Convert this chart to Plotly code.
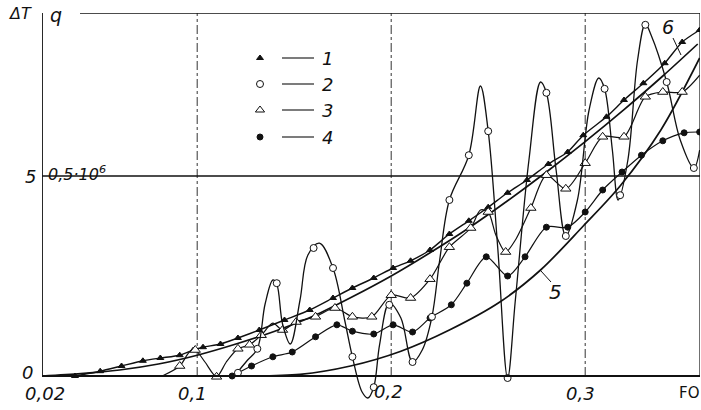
import plotly.graph_objects as go

# ---------------- data (Fo, ΔT / q) ----------------
fo_1 = [0.037, 0.050, 0.061, 0.072, 0.081, 0.091, 0.098, 0.103, 0.112, 0.121, 0.132, 0.145,
        0.158, 0.170, 0.180, 0.191, 0.201, 0.210, 0.220, 0.230, 0.240, 0.250, 0.260, 0.270,
        0.281, 0.291, 0.299, 0.311, 0.320, 0.330, 0.341, 0.350, 0.359]
dT_1 = [0.00, 0.12, 0.25, 0.38, 0.45, 0.52, 0.65, 0.72, 0.80, 0.95, 1.15, 1.40,
        1.65, 1.95, 2.20, 2.45, 2.70, 2.88, 3.15, 3.55, 3.88, 4.22, 4.58, 4.90,
        5.30, 5.60, 6.02, 6.48, 6.90, 7.32, 7.82, 8.35, 8.65]

fo_2_line = [0.120, 0.126, 0.131, 0.135, 0.139, 0.141, 0.144, 0.148, 0.153, 0.157, 0.163, 0.170,
             0.176, 0.180, 0.185, 0.188, 0.191, 0.194, 0.199, 0.205, 0.211, 0.216, 0.221, 0.225,
             0.230, 0.240, 0.246, 0.250, 0.255, 0.260, 0.264, 0.271, 0.277, 0.280, 0.285, 0.290,
             0.296, 0.302, 0.307, 0.310, 0.314, 0.317, 0.322, 0.327, 0.331, 0.334, 0.342, 0.349,
             0.356, 0.359]
dT_2_line = [0.05, 0.40, 0.68, 1.80, 2.40, 2.30, 1.30, 0.80, 1.90, 3.02, 3.32, 2.70,
             1.40, 0.48, -0.40, -0.55, -0.28, 0.78, 1.82, 1.45, 0.35, 0.65, 1.48, 2.90,
             4.40, 5.52, 7.25, 6.12, 3.15, -0.05, 1.90, 5.40, 7.35, 7.08, 5.15, 3.50,
             4.40, 6.65, 7.45, 7.18, 5.65, 4.40, 5.40, 7.90, 8.80, 8.52, 7.35, 5.90,
             5.20, 5.65]
fo_2_pts = [0.121, 0.131, 0.141, 0.160, 0.170, 0.180, 0.191, 0.199, 0.211, 0.221, 0.230, 0.240,
            0.250, 0.260, 0.280, 0.290, 0.310, 0.318, 0.331, 0.342, 0.356]
dT_2_pts = [0.08, 0.68, 2.32, 3.20, 2.70, 0.48, -0.28, 1.78, 0.35, 1.48, 4.40, 5.52,
            6.12, -0.05, 7.08, 3.50, 7.18, 4.52, 8.78, 7.35, 5.20]

fo_3_line = [0.082, 0.091, 0.096, 0.099, 0.104, 0.110, 0.115, 0.121, 0.127, 0.133, 0.139, 0.144,
             0.151, 0.161, 0.171, 0.180, 0.190, 0.200, 0.210, 0.220, 0.230, 0.241, 0.246, 0.250,
             0.254, 0.259, 0.264, 0.272, 0.280, 0.290, 0.300, 0.309, 0.320, 0.331, 0.340, 0.350,
             0.359]
dT_3_line = [0.00, 0.25, 0.60, 0.65, 0.35, -0.02, 0.35, 0.68, 0.78, 1.02, 1.32, 1.15,
             1.35, 1.48, 1.70, 1.48, 1.48, 2.02, 1.95, 2.42, 3.22, 3.70, 4.15, 4.10,
             3.52, 3.10, 3.40, 4.20, 5.02, 4.68, 5.32, 5.98, 5.98, 6.98, 7.10, 7.10,
             7.52]
fo_3_pts = [0.091, 0.099, 0.110, 0.121, 0.127, 0.133, 0.144, 0.151, 0.161, 0.171, 0.180, 0.190,
            0.200, 0.210, 0.220, 0.230, 0.241, 0.250, 0.259, 0.272, 0.280, 0.290, 0.300, 0.309,
            0.320, 0.331, 0.340, 0.350]
dT_3_pts = [0.25, 0.65, -0.02, 0.68, 0.78, 1.02, 1.15, 1.35, 1.48, 1.70, 1.48, 1.48,
            2.02, 1.95, 2.42, 3.22, 3.70, 4.10, 3.10, 4.20, 5.02, 4.68, 5.32, 5.98,
            5.98, 6.98, 7.10, 7.10]

fo_4 = [0.118, 0.128, 0.139, 0.149, 0.161, 0.172, 0.180, 0.191, 0.201, 0.211, 0.220, 0.231,
        0.239, 0.249, 0.260, 0.269, 0.280, 0.291, 0.300, 0.309, 0.319, 0.329, 0.340, 0.351,
        0.359]
dT_4 = [0.00, 0.25, 0.48, 0.60, 0.98, 1.28, 1.12, 1.05, 1.28, 1.10, 1.45, 1.78,
        2.32, 2.98, 2.50, 2.98, 3.72, 3.72, 4.10, 4.65, 5.10, 5.52, 5.88, 6.08,
        6.10]

fo_5 = [0.130, 0.153, 0.179, 0.205, 0.230, 0.256, 0.277, 0.299, 0.318, 0.339, 0.359]
dT_5 = [0.00, 0.04, 0.25, 0.62, 1.15, 1.85, 2.65, 3.75, 4.75, 6.15, 7.95]

fo_6 = [0.020, 0.040, 0.060, 0.080, 0.100, 0.120, 0.140, 0.160, 0.180, 0.200, 0.220, 0.240,
        0.260, 0.280, 0.300, 0.320, 0.340, 0.358]
dT_6 = [0.00, 0.06, 0.15, 0.30, 0.52, 0.80, 1.12, 1.50, 1.98, 2.50, 3.08, 3.70,
        4.38, 5.10, 5.86, 6.66, 7.50, 8.30]

x_ticks = [0.1, 0.2, 0.3]
x_tick_text = ["0,1", "0,2", "0,3"]
legend_labels = ["1", "2", "3", "4"]

# ---------------- layout constants ----------------
W, H = 701, 410
BASE = 376                 # pixel row of the zero line
ML, MR, MT, MB = 42, 1, 13, 10
PW, PH = W - ML - MR, H - MT - MB
X0 = 0.02
PX_PER_X = 1940.0
PX_PER_Y = 40.0
X1 = X0 + PW / PX_PER_X
YMIN = -(H - MB - BASE) / PX_PER_Y
Y1 = (BASE - MT) / PX_PER_Y

def dx(px):  # pixel -> data x (decoration placement)
    return X0 + (px - ML) / PX_PER_X

def dy(py):
    return (BASE - py) / PX_PER_Y

def pxp(px):  # pixel -> paper x
    return (px - ML) / PW

def pyp(py):
    return (H - MB - py) / PH

BLACK = "#111111"
FONT = "DejaVu Sans"

fig = go.Figure()

def line(x, y, w=1.3, smooth=0.9):
    fig.add_trace(go.Scatter(x=x, y=y, mode="lines",
                             line=dict(color=BLACK, width=w, shape="spline", smoothing=smooth),
                             hoverinfo="skip", showlegend=False))

def pts(x, y, symbol, size, fill):
    fig.add_trace(go.Scatter(x=x, y=y, mode="markers",
                             marker=dict(symbol=symbol, size=size, color=fill,
                                         line=dict(color=BLACK, width=1)),
                             hoverinfo="skip", showlegend=False))

line(fo_6, dT_6, 1.7, 0.8)
line(fo_5, dT_5, 1.7, 0.9)
line(fo_1, dT_1, 1.4, 0.6)
pts(fo_1, dT_1, "triangle-up", 6, BLACK)
line(fo_4, dT_4, 1.2, 0.8)
pts(fo_4, dT_4, "circle", 6, BLACK)
line(fo_3_line, dT_3_line, 1.2, 0.8)
pts(fo_3_pts, dT_3_pts, "triangle-up", 9, "white")
line(fo_2_line, dT_2_line, 1.3, 1.0)
pts(fo_2_pts, dT_2_pts, "circle", 7, "white")

# legend (manual)
leg_rows = [58, 84, 110, 137]
leg_sym = [("triangle-up", 6, BLACK), ("circle", 7, "white"), ("triangle-up", 8, "white"), ("circle", 6, BLACK)]
shapes = []
annotations = []
for (sym, sz, fill), py, lab in zip(leg_sym, leg_rows, legend_labels):
    fig.add_trace(go.Scatter(x=[dx(260)], y=[dy(py)], mode="markers",
                             marker=dict(symbol=sym, size=sz, color=fill, line=dict(color=BLACK, width=1)),
                             hoverinfo="skip", showlegend=False))
    shapes.append(dict(type="line", xref="x", yref="y", x0=dx(282), x1=dx(314), y0=dy(py), y1=dy(py),
                       line=dict(color=BLACK, width=1.1)))
    annotations.append(dict(x=dx(320), y=dy(py), xref="x", yref="y", text="<i>" + lab + "</i>",
                            showarrow=False, xanchor="left", yanchor="middle",
                            font=dict(family=FONT, size=18, color=BLACK)))

# grid lines
for xv in x_ticks:
    shapes.append(dict(type="line", xref="x", yref="y", x0=xv, x1=xv, y0=0, y1=Y1,
                       line=dict(color="#333333", width=1, dash="dashdot"), layer="below"))
shapes.append(dict(type="line", xref="x", yref="y", x0=X0, x1=X1, y0=5, y1=5,
                   line=dict(color=BLACK, width=1.3), layer="below"))
# axes and frame
shapes.append(dict(type="line", xref="x", yref="y", x0=X0, x1=X1, y0=0, y1=0,
                   line=dict(color=BLACK, width=2)))
shapes.append(dict(type="line", xref="x", yref="y", x0=X0, x1=X0, y0=0, y1=dy(7),
                   line=dict(color=BLACK, width=1.8)))
shapes.append(dict(type="line", xref="x", yref="y", x0=dx(80), x1=X1, y0=Y1, y1=Y1,
                   line=dict(color=BLACK, width=1.5)))
shapes.append(dict(type="line", xref="x", yref="y", x0=dx(700), x1=dx(700), y0=0, y1=Y1,
                   line=dict(color=BLACK, width=1.2)))
# leader lines for curve labels 5, 6
shapes.append(dict(type="line", xref="x", yref="y", x0=dx(673), y0=dy(38), x1=dx(681), y1=dy(55),
                   line=dict(color=BLACK, width=1)))
shapes.append(dict(type="line", xref="x", yref="y", x0=dx(541), y0=dy(271), x1=dx(551), y1=dy(282),
                   line=dict(color=BLACK, width=1)))

def ann(px, py, text, size=17, xanchor="center", italic=True):
    annotations.append(dict(x=pxp(px), y=pyp(py), xref="paper", yref="paper",
                            text=("<i>" + text + "</i>") if italic else text,
                            showarrow=False, xanchor=xanchor, yanchor="middle",
                            font=dict(family=FONT, size=size, color=BLACK)))

ann(45, 393, "0,02", 18)
for xv, t in zip(x_ticks, x_tick_text):
    px = ML + (xv - X0) * PX_PER_X
    if xv == 0.2:
        ann(px - 3, 391, t, 18)
    else:
        ann(px - 5, 393, t, 18)
ann(701, 393, "FO", 15, "right", False)
ann(27, 372, "0", 18)
ann(30, 176, "5", 18)
ann(46, 173, "0,5·10<sup>6</sup>", 16, "left")
ann(20, 14, "ΔT", 16)
ann(56, 15, "q", 19)
ann(668, 27, "6", 19)
ann(555, 292, "5", 20)

fig.update_layout(
    width=W, height=H,
    margin=dict(l=ML, r=MR, t=MT, b=MB, pad=0, autoexpand=False),
    plot_bgcolor="white", paper_bgcolor="white",
    showlegend=False,
    xaxis=dict(range=[X0, X1], showgrid=False, zeroline=False, showticklabels=False, ticks="",
               showline=False, fixedrange=True),
    yaxis=dict(range=[YMIN, Y1], showgrid=False, zeroline=False, showticklabels=False, ticks="",
               showline=False, fixedrange=True),
    shapes=shapes,
    annotations=annotations,
)

fig.write_html("out.html", config={"displayModeBar": False},
               post_script="document.body.style.margin='0';document.body.style.overflow='hidden';")
